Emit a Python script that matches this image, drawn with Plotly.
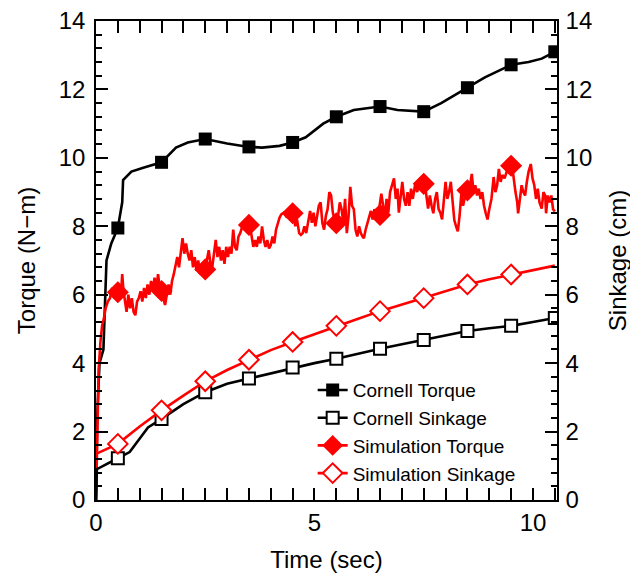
import plotly.graph_objects as go

# ---------------- data ----------------
# Cornell torque (line points and marker points)
cornell_torque_x = [0, 0.03, 0.08, 0.17, 0.24, 0.35, 0.5, 0.6, 0.62, 0.81, 1.1, 1.5, 1.83, 2.1, 2.5,
                    3.0, 3.5, 3.8, 4.2, 4.5, 4.8, 5.2, 5.5, 5.9, 6.5, 6.9, 7.5, 7.9, 8.5, 8.9, 9.5,
                    9.9, 10.2, 10.5]
cornell_torque_y = [0, 2.5, 4.0, 4.4, 7.0, 7.5, 7.95, 8.7, 9.35, 9.6, 9.72, 9.87, 10.3, 10.45, 10.55,
                    10.42, 10.32, 10.3, 10.35, 10.45, 10.6, 11.0, 11.2, 11.4, 11.5, 11.4, 11.35, 11.6,
                    12.05, 12.35, 12.72, 12.8, 12.9, 13.1]
cornell_torque_mx = [0.5, 1.5, 2.5, 3.5, 4.5, 5.5, 6.5, 7.5, 8.5, 9.5, 10.5]
cornell_torque_my = [7.95, 9.87, 10.55, 10.32, 10.45, 11.2, 11.5, 11.35, 12.05, 12.72, 13.1]

# Cornell sinkage
cornell_sink_x = [0, 0.02, 0.5, 0.77, 1.19, 1.5, 2.0, 2.5, 3.0, 3.5, 4.0, 4.5, 5.0, 5.5, 6.0, 6.5,
                  7.0, 7.5, 8.0, 8.5, 9.0, 9.5, 10.0, 10.5]
cornell_sink_y = [0, 0.9, 1.22, 1.4, 2.12, 2.37, 2.8, 3.15, 3.4, 3.55, 3.72, 3.87, 4.0, 4.13, 4.28,
                  4.42, 4.55, 4.68, 4.82, 4.94, 5.02, 5.09, 5.2, 5.32]
cornell_sink_mx = [0.5, 1.5, 2.5, 3.5, 4.5, 5.5, 6.5, 7.5, 8.5, 9.5, 10.5]
cornell_sink_my = [1.22, 2.37, 3.15, 3.55, 3.87, 4.13, 4.42, 4.68, 4.94, 5.09, 5.32]

# Simulation torque (noisy)
sim_torque_x = [0, 0.03, 0.06, 0.1, 0.14, 0.18, 0.22, 0.27, 0.32, 0.37, 0.42, 0.47, 0.52, 0.57, 0.6, 0.63,
                0.67, 0.7, 0.74, 0.78, 0.82, 0.86, 0.9, 0.94, 0.98, 1.02, 1.06, 1.1, 1.14, 1.18, 1.22,
                1.26, 1.3, 1.34, 1.38, 1.42, 1.46, 1.5, 1.54, 1.58, 1.62, 1.66, 1.7, 1.74, 1.78, 1.82,
                1.86, 1.9, 1.94, 1.98, 2.02, 2.06, 2.1, 2.14, 2.18, 2.22, 2.26, 2.3, 2.34, 2.38, 2.42,
                2.46, 2.5, 2.54, 2.58, 2.62, 2.66, 2.7, 2.74, 2.78, 2.82, 2.86, 2.9, 2.94, 2.98, 3.02,
                3.06, 3.1, 3.14, 3.18, 3.22, 3.26, 3.3, 3.35, 3.4, 3.45, 3.5, 3.55, 3.6, 3.64, 3.68,
                3.72, 3.76, 3.8, 3.84, 3.88, 3.92, 3.96, 4.0, 4.04, 4.08, 4.12, 4.16, 4.2, 4.24, 4.3,
                4.35, 4.4, 4.47, 4.52, 4.56, 4.6, 4.65, 4.69, 4.73, 4.77, 4.81, 4.85, 4.9, 4.94, 4.98,
                5.02, 5.06, 5.1, 5.14, 5.18, 5.22, 5.26, 5.3, 5.34, 5.38, 5.42, 5.46, 5.5, 5.54, 5.58,
                5.62, 5.66, 5.7, 5.74, 5.78, 5.82, 5.86, 5.9, 5.94, 5.98, 6.02, 6.06, 6.1, 6.13, 6.17,
                6.21, 6.25, 6.29, 6.33, 6.37, 6.41, 6.45, 6.49, 6.53, 6.57, 6.61, 6.65, 6.69, 6.73, 6.78,
                6.82, 6.86, 6.9, 6.93, 6.97, 7.01, 7.05, 7.09, 7.13, 7.17, 7.21, 7.25, 7.3, 7.35, 7.4,
                7.45, 7.5, 7.55, 7.6, 7.64, 7.68, 7.72, 7.76, 7.8, 7.84, 7.88, 7.92, 7.96, 8.0, 8.04,
                8.08, 8.12, 8.16, 8.2, 8.24, 8.28, 8.32, 8.36, 8.4, 8.44, 8.48, 8.52, 8.56, 8.6, 8.64,
                8.68, 8.72, 8.76, 8.8, 8.84, 8.88, 8.92, 8.96, 9.0, 9.05, 9.1, 9.14, 9.18, 9.22, 9.26,
                9.3, 9.35, 9.4, 9.45, 9.5, 9.55, 9.6, 9.64, 9.66, 9.7, 9.74, 9.78, 9.82, 9.86, 9.9,
                9.95, 9.99, 10.03, 10.07, 10.11, 10.15, 10.2, 10.24, 10.28, 10.3, 10.34, 10.38, 10.42,
                10.46, 10.5]
sim_torque_y = [0, 2.0, 3.8, 4.6, 5.1, 5.3, 5.6, 5.8, 5.9, 6.2, 5.9, 6.1, 6.3, 6.0, 6.6, 6.1,
                5.7, 5.5, 6.0, 5.6, 5.9, 5.5, 5.4, 5.8, 5.9, 6.1, 5.8, 6.2, 5.9, 6.3, 6.0,
                6.4, 6.1, 6.5, 6.2, 6.6, 6.2, 6.1, 5.9, 5.7, 6.0, 6.3, 6.0, 6.4, 6.6, 6.9,
                7.1, 6.8, 7.3, 7.65, 7.2, 7.5, 7.2, 7.0, 7.3, 6.8, 7.1, 6.7, 7.0, 6.6, 6.9,
                6.7, 6.75, 7.0, 7.3, 6.9, 6.8, 7.2, 7.6, 7.1, 7.4, 7.0, 7.3, 6.9, 7.4, 7.1,
                7.4, 7.2, 7.9, 7.4, 7.3, 7.7, 7.8, 8.0, 8.1, 8.0, 8.04, 7.8, 7.4, 7.6, 7.4,
                7.7, 7.5, 8.0, 7.6, 7.4, 7.6, 7.35, 7.45, 7.7, 7.5, 7.9, 8.1, 8.25, 8.35, 8.4,
                8.3, 8.4, 8.38, 8.3, 8.0, 8.2, 7.8, 7.75, 7.8, 8.0, 7.8, 8.1, 8.45, 8.1, 8.4,
                8.0, 8.3, 8.6, 8.7, 8.1, 7.9, 8.3, 8.5, 9.0, 8.9, 8.4, 8.2, 8.1, 8.3, 8.7,
                8.5, 8.1, 8.8, 7.8, 8.3, 9.15, 8.6, 8.5, 7.9, 7.7, 8.0, 7.8, 7.7, 7.65, 7.9,
                8.1, 8.3, 8.45, 8.2, 8.5, 8.3, 8.33, 8.6, 8.95, 8.6, 8.3, 8.8, 8.4, 9.0, 9.2,
                9.4, 8.8, 9.1, 8.4, 8.8, 9.3, 8.8, 8.6, 9.0, 8.6, 9.1, 8.8, 9.2, 9.0, 9.3,
                9.1, 9.24, 9.0, 8.52, 8.9, 8.6, 8.38, 8.8, 9.0, 8.5, 8.4, 8.2, 8.8, 9.3, 8.8,
                9.0, 9.3, 8.7, 8.18, 8.0, 7.85, 8.3, 8.95, 8.6, 8.9, 9.1, 9.0, 9.2, 9.53, 9.0,
                9.2, 8.9, 9.1, 8.8, 9.0, 8.6, 8.38, 8.2, 8.5, 8.8, 9.44, 9.0, 9.2, 9.68, 9.3,
                9.5, 9.4, 9.6, 9.8, 9.77, 9.5, 9.0, 8.7, 8.38, 8.9, 9.2, 9.0, 8.9, 9.3, 9.6,
                9.82, 9.4, 9.2, 8.8, 9.1, 8.7, 8.52, 9.0, 8.9, 8.38, 8.9, 8.7, 8.9,
                8.5, 8.43]
sim_torque_mx = [0.5, 1.5, 2.5, 3.5, 4.5, 5.5, 6.5, 7.5, 8.5, 9.5]
sim_torque_my = [6.07, 6.11, 6.74, 8.04, 8.38, 8.09, 8.33, 9.24, 9.05, 9.77]

# Simulation sinkage
sim_sink_x = [0, 0.5, 1.0, 1.5, 2.0, 2.5, 3.0, 3.5, 4.0, 4.5, 5.0, 5.5, 6.0, 6.5, 7.0, 7.5,
              8.0, 8.5, 9.0, 9.5, 10.0, 10.5]
sim_sink_y = [1.35, 1.64, 2.15, 2.62, 3.05, 3.47, 3.8, 4.1, 4.38, 4.62, 4.85, 5.09, 5.3, 5.52,
              5.72, 5.9, 6.1, 6.3, 6.45, 6.59, 6.72, 6.85]
sim_sink_mx = [0.5, 1.5, 2.5, 3.5, 4.5, 5.5, 6.5, 7.5, 8.5, 9.5]
sim_sink_my = [1.64, 2.62, 3.47, 4.1, 4.62, 5.09, 5.52, 5.9, 6.3, 6.59]

series_names = ["Cornell Torque", "Cornell Sinkage", "Simulation Torque", "Simulation Sinkage"]
y_ticks = [0, 2, 4, 6, 8, 10, 12, 14]
x_ticks = [0, 5, 10]

# ---------------- figure ----------------
FONT = "Liberation Sans, Arial, Helvetica, sans-serif"
RED = "#ff0000"
BLACK = "#000000"
LW = 2.6

fig = go.Figure()

specs = [
    (series_names[0], cornell_torque_x, cornell_torque_y, cornell_torque_mx, cornell_torque_my,
     BLACK, dict(symbol="square", size=13, color=BLACK, line=dict(color=BLACK, width=0)), "y"),
    (series_names[1], cornell_sink_x, cornell_sink_y, cornell_sink_mx, cornell_sink_my,
     BLACK, dict(symbol="square", size=12, color="white", line=dict(color=BLACK, width=2)), "y2"),
    (series_names[2], sim_torque_x, sim_torque_y, sim_torque_mx, sim_torque_my,
     RED, dict(symbol="diamond", size=17, color=RED, line=dict(color=RED, width=0)), "y"),
    (series_names[3], sim_sink_x, sim_sink_y, sim_sink_mx, sim_sink_my,
     RED, dict(symbol="diamond", size=15, color="white", line=dict(color=RED, width=2)), "y2"),
]

for name, lx, ly, mx, my, col, mk, ya in specs:
    fig.add_trace(go.Scatter(x=lx, y=ly, mode="lines", line=dict(color=col, width=LW),
                             showlegend=False, yaxis=ya, hoverinfo="skip"))
    fig.add_trace(go.Scatter(x=mx, y=my, mode="markers", marker=mk,
                             showlegend=False, yaxis=ya))
    fig.add_trace(go.Scatter(x=[None], y=[None], mode="lines+markers", name=name,
                             line=dict(color=col, width=LW), marker=mk, yaxis=ya))

axis_common = dict(
    showline=True, linecolor=BLACK, linewidth=1.5,
    ticks="inside", ticklen=12, tickwidth=1.5, tickcolor=BLACK,
    showgrid=False, zeroline=False, automargin=False, ticklabeloverflow="allow",
    tickfont=dict(family=FONT, size=24, color=BLACK),
)

# the page body has an 8px default margin, so the figure is sized to fit the window
fig.update_layout(
    width=630, height=568,
    margin=dict(l=88, r=81, t=13, b=76),
    paper_bgcolor="white", plot_bgcolor="white",
    font=dict(family=FONT, color=BLACK),
    xaxis=dict(range=[0, 10.55], tickvals=x_ticks, mirror="allticks",
               minor=dict(ticks="inside", ticklen=6, dtick=0.5, tick0=0, tickwidth=1.5, tickcolor=BLACK),
               title=dict(text="Time (sec)", font=dict(family=FONT, size=24, color=BLACK), standoff=17),
               **axis_common),
    yaxis=dict(range=[0, 14], tickvals=y_ticks, ticklabelstandoff=4,
               minor=dict(ticks="inside", ticklen=6, dtick=0.4, tick0=0, tickwidth=1.5, tickcolor=BLACK),
               title=dict(text="Torque (N\u2212m)", font=dict(family=FONT, size=24, color=BLACK), standoff=16),
               **axis_common),
    yaxis2=dict(range=[0, 14], tickvals=y_ticks, overlaying="y", side="right", ticklabelstandoff=2,
                minor=dict(ticks="inside", ticklen=6, dtick=0.4, tick0=0, tickwidth=1.5, tickcolor=BLACK),
                title=dict(text="Sinkage (cm)", font=dict(family=FONT, size=24, color=BLACK), standoff=18),
                **axis_common),
    legend=dict(x=0.47, y=0.269, xanchor="left", yanchor="top",
                bgcolor="rgba(0,0,0,0)", borderwidth=0,
                font=dict(family=FONT, size=19, color=BLACK),
                tracegroupgap=0, itemwidth=30),
    showlegend=True,
)

fig.write_html("out.html")
